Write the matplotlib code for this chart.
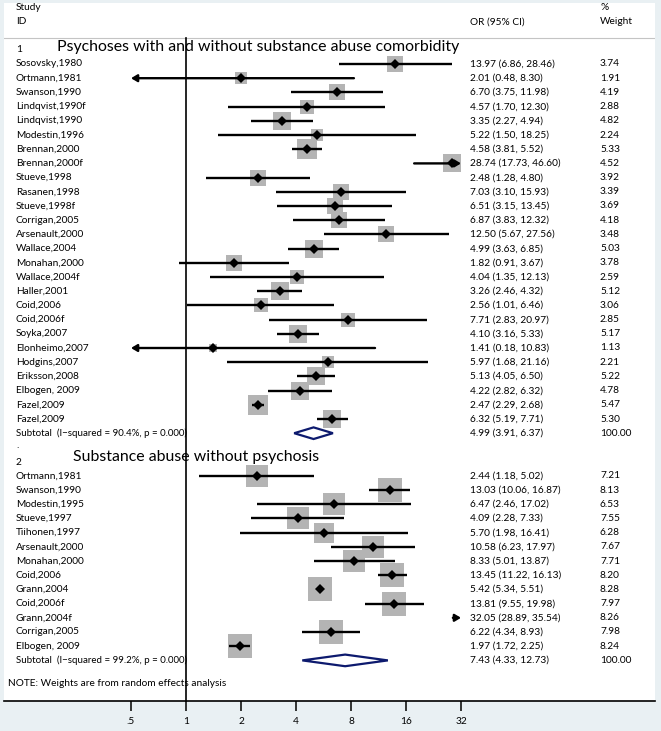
import numpy as np
import matplotlib
matplotlib.use('Agg')
import matplotlib.pyplot as plt
from matplotlib.patches import Polygon

# ---------------- data ----------------
g1_title = "Psychoses with and without substance abuse comorbidity"
g1_studies = ["Sosovsky,1980", "Ortmann,1981", "Swanson,1990", "Lindqvist,1990f",
              "Lindqvist,1990", "Modestin,1996", "Brennan,2000", "Brennan,2000f",
              "Stueve,1998", "Rasanen,1998", "Stueve,1998f", "Corrigan,2005",
              "Arsenault,2000", "Wallace,2004", "Monahan,2000", "Wallace,2004f",
              "Haller,2001", "Coid,2006", "Coid,2006f", "Soyka,2007",
              "Elonheimo,2007", "Hodgins,2007", "Eriksson,2008", "Elbogen, 2009",
              "Fazel,2009", "Fazel,2009"]
g1_or = [13.97, 2.01, 6.70, 4.57, 3.35, 5.22, 4.58, 28.74, 2.48, 7.03, 6.51, 6.87,
         12.50, 4.99, 1.82, 4.04, 3.26, 2.56, 7.71, 4.10, 1.41, 5.97, 5.13, 4.22,
         2.47, 6.32]
g1_lo = [6.86, 0.48, 3.75, 1.70, 2.27, 1.50, 3.81, 17.73, 1.28, 3.10, 3.15, 3.83,
         5.67, 3.63, 0.91, 1.35, 2.46, 1.01, 2.83, 3.16, 0.18, 1.68, 4.05, 2.82,
         2.29, 5.19]
g1_hi = [28.46, 8.30, 11.98, 12.30, 4.94, 18.25, 5.52, 46.60, 4.80, 15.93, 13.45,
         12.32, 27.56, 6.85, 3.67, 12.13, 4.32, 6.46, 20.97, 5.33, 10.83, 21.16,
         6.50, 6.32, 2.68, 7.71]
g1_w = [3.74, 1.91, 4.19, 2.88, 4.82, 2.24, 5.33, 4.52, 3.92, 3.39, 3.69, 4.18,
        3.48, 5.03, 3.78, 2.59, 5.12, 3.06, 2.85, 5.17, 1.13, 2.21, 5.22, 4.78,
        5.47, 5.30]
g1_sub_label = "Subtotal  (I\u2212squared = 90.4%, p = 0.000)"
g1_sub = (4.99, 3.91, 6.37)

g2_title = "Substance abuse without psychosis"
g2_studies = ["Ortmann,1981", "Swanson,1990", "Modestin,1995", "Stueve,1997",
              "Tiihonen,1997", "Arsenault,2000", "Monahan,2000", "Coid,2006",
              "Grann,2004", "Coid,2006f", "Grann,2004f", "Corrigan,2005",
              "Elbogen, 2009"]
g2_or = [2.44, 13.03, 6.47, 4.09, 5.70, 10.58, 8.33, 13.45, 5.42, 13.81, 32.05,
         6.22, 1.97]
g2_lo = [1.18, 10.06, 2.46, 2.28, 1.98, 6.23, 5.01, 11.22, 5.34, 9.55, 28.89,
         4.34, 1.72]
g2_hi = [5.02, 16.87, 17.02, 7.33, 16.41, 17.97, 13.87, 16.13, 5.51, 19.98, 35.54,
         8.93, 2.25]
g2_w = [7.21, 8.13, 6.53, 7.55, 6.28, 7.67, 7.71, 8.20, 8.28, 7.97, 8.26, 7.98, 8.24]
g2_sub_label = "Subtotal  (I\u2212squared = 99.2%, p = 0.000)"
g2_sub = (7.43, 4.33, 12.73)

xticks = [0.5, 1, 2, 4, 8, 16, 32]
xticklabels = [".5", "1", "2", "4", "8", "16", "32"]
note = "NOTE: Weights are from random effects analysis"

# ---------------- style ----------------
FONT = "Lato"
FS = 7.3
BG = "#e9f0f3"
BOX = "#b4b4b4"
NAVY = "#0d1a6e"

W, H = 661, 731
fig = plt.figure(figsize=(W / 100, H / 100), dpi=100, facecolor=BG)
L, R, T, B = 4, 655, 3, 701
ax = fig.add_axes([L / W, (H - B) / H, (R - L) / W, (B - T) / H])
ax.set_facecolor("white")

ax.set_xscale("log", base=2)
px_per_unit = 55.0
x_one = 186.0
ax.set_xlim(2 ** ((L - x_one) / px_per_unit), 2 ** ((R - x_one) / px_per_unit))
row0, rowh = 64.0, 14.2
ax.set_ylim((B - row0) / rowh, (T - row0) / rowh)

for s in ["left", "right", "top"]:
    ax.spines[s].set_visible(False)
ax.spines["bottom"].set_linewidth(1.2)
ax.set_yticks([])
ax.set_xticks(xticks)
ax.set_xticklabels(xticklabels, fontfamily=FONT, fontsize=FS)
ax.minorticks_off()
ax.tick_params(axis="x", direction="out", length=7.5, width=1.1, pad=4)

lo_clip, hi_clip = 0.5, 32.0
CI_LW = 1.7
ARROW = dict(arrowstyle="-|>,head_length=0.5,head_width=0.3", lw=CI_LW,
             color="black", shrinkA=0, shrinkB=0, mutation_scale=7)

def txt(xpx, y, s, **kw):
    kw.setdefault("fontsize", FS)
    kw.setdefault("fontfamily", FONT)
    kw.setdefault("va", "center")
    ax.text((xpx - L) / (R - L), y, s, transform=ax.get_yaxis_transform(),
            ha="left", clip_on=False, **kw)

def draw_study(y, est, lo, hi, w):
    in_range = lo_clip <= est <= hi_clip
    if in_range:
        side = 5.93 * np.sqrt(w)
        ax.scatter([est], [y], marker="s", s=side ** 2, color=BOX, linewidths=0, zorder=2)
    a = max(lo, lo_clip)
    b = min(hi, hi_clip)
    if lo < lo_clip:
        ax.annotate("", xy=(lo_clip, y), xytext=(b, y), arrowprops=ARROW, zorder=3)
    elif hi > hi_clip:
        ax.annotate("", xy=(hi_clip, y), xytext=(a, y), arrowprops=ARROW, zorder=3)
    else:
        ax.plot([a, b], [y, y], color="black", lw=CI_LW, solid_capstyle="butt", zorder=3)
    if in_range:
        ax.plot([est], [y], marker="D", ms=5.0, color="black", mew=0, zorder=4)

def draw_sub(y, est, lo, hi):
    h = 0.41
    poly = Polygon([(lo, y), (est, y - h), (hi, y), (est, y + h)], closed=True,
                   facecolor="white", edgecolor=NAVY, lw=1.6, zorder=3)
    ax.add_patch(poly)

def fmt_ci(e, l, h):
    return f"{e:.2f} ({l:.2f}, {h:.2f})"

X_LAB, X_OR, X_W = 16, 470, 600

# header
txt(X_LAB, -4.0, "Study")
txt(X_LAB, -2.96, "ID")
txt(X_OR, -2.96, "OR (95% CI)")
txt(X_W + 1, -4.0, "%")
txt(X_W, -2.96, "Weight")
ax.axhline(-1.83, color="#c4c4c4", lw=0.8, zorder=1)

# group 1
txt(X_LAB, -0.99, "1")
txt(57, -1.2, g1_title, fontsize=11.4)
for i, (n, e, l, h, w) in enumerate(zip(g1_studies, g1_or, g1_lo, g1_hi, g1_w)):
    txt(X_LAB, i, n)
    txt(X_OR, i, fmt_ci(e, l, h))
    txt(X_W, i, f"{w:.2f}")
    draw_study(i, e, l, h, w)
y_sub1 = len(g1_studies)
txt(X_LAB, y_sub1, g1_sub_label, fontsize=7.0)
txt(X_OR, y_sub1, fmt_ci(*g1_sub))
txt(X_W, y_sub1, "100.00")
draw_sub(y_sub1, *g1_sub)

txt(X_LAB, y_sub1 + 0.9, ".")

# group 2
y_g2 = y_sub1 + 2
txt(X_LAB, y_g2 + 0.03, "2")
txt(73, y_g2 - 0.32, g2_title, fontsize=11.4)
start2 = y_g2 + 1
for k, (n, e, l, h, w) in enumerate(zip(g2_studies, g2_or, g2_lo, g2_hi, g2_w)):
    y = start2 + k
    txt(X_LAB, y, n)
    txt(X_OR, y, fmt_ci(e, l, h))
    txt(X_W, y, f"{w:.2f}")
    draw_study(y, e, l, h, w)
y_sub2 = start2 + len(g2_studies)
txt(X_LAB, y_sub2, g2_sub_label, fontsize=7.0)
txt(X_OR, y_sub2, fmt_ci(*g2_sub))
txt(X_W, y_sub2, "100.00")
draw_sub(y_sub2, *g2_sub)

txt(8, y_sub2 + 1.6, note)

# reference line at OR = 1
ax.plot([1, 1], [-1.83, (B - row0) / rowh], color="black", lw=1.2, zorder=5,
        clip_on=False)

fig.savefig("out.png", dpi=100, facecolor=BG)
